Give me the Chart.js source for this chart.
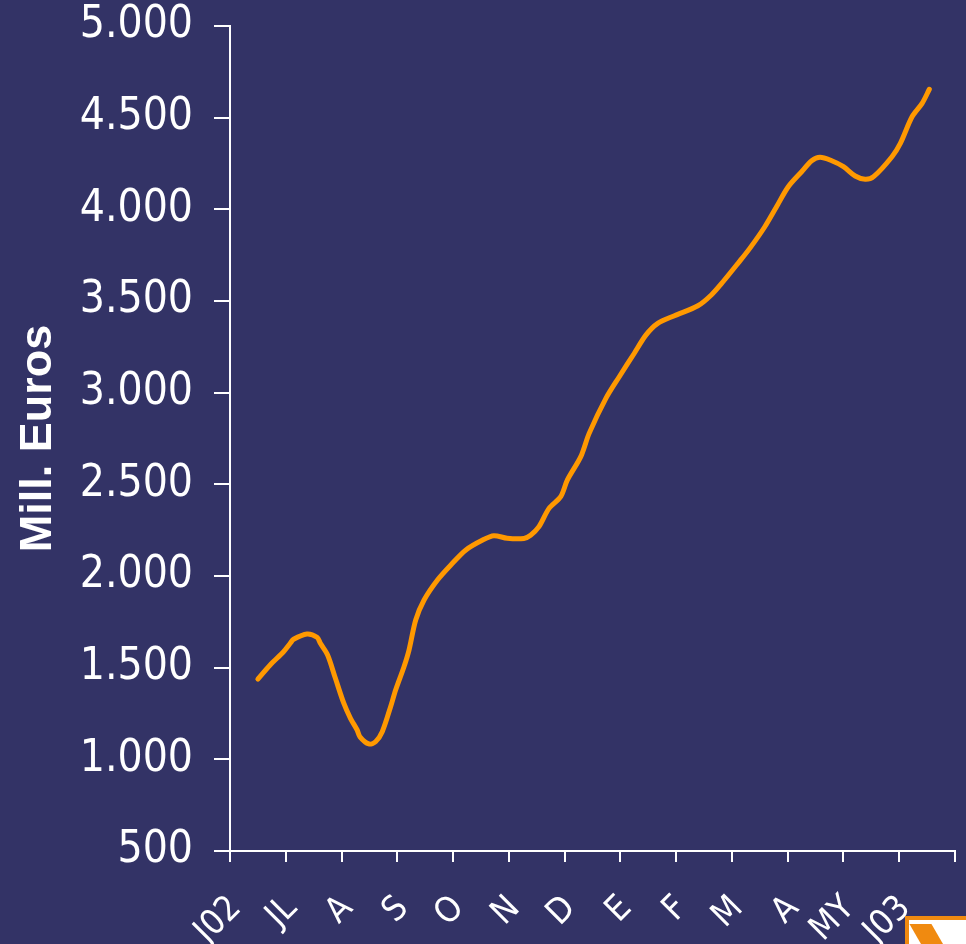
<!DOCTYPE html>
<html>
<head>
<meta charset="utf-8">
<script src="https://cdn.jsdelivr.net/npm/chart.js@4.4.1/dist/chart.umd.min.js"></script>
<style>
  html, body { margin: 0; padding: 0; background: #333366; overflow: hidden; }
  #wrap { position: relative; width: 966px; height: 944px; }
  canvas { display: block; }
  #logo { position: absolute; left: 905px; top: 916px; width: 70px; height: 40px;
          background: #ffffff; border: 4px solid #F08A10; box-sizing: border-box; overflow: hidden; }
  #logo div { position: absolute; left: 12px; top: 4px; width: 22px; height: 40px;
              background: #F08A10; transform: skewX(30deg); }
</style>
</head>
<body>
<div id="wrap">
  <canvas id="c" width="966" height="944"></canvas>
  <div id="logo"><div></div></div>
</div>
<script>
// Category labels (months, Jun 2002 – Jun 2003)
const monthLabels = ['J02', 'JL', 'A', 'S', 'O', 'N', 'D', 'E', 'F', 'M', 'A', 'MY', 'J03'];

// Series positions (fractional month index) and values in Mill. Euros
const seriesX = [0.00, 0.22, 0.46, 0.58, 0.64, 0.88, 1.06, 1.12, 1.25, 1.39, 1.54, 1.66, 1.78, 1.83,
  1.99, 2.11, 2.23, 2.38, 2.47, 2.62, 2.71, 2.83, 2.98, 3.22, 3.46, 3.73, 4.03, 4.23, 4.47, 4.77,
  4.89, 5.04, 5.22, 5.43, 5.55, 5.79, 5.94, 6.24, 6.48, 6.75, 6.96, 7.17, 7.47, 7.89, 8.13, 8.34,
  8.61, 8.82, 9.09, 9.30, 9.51, 9.75, 9.93, 10.08, 10.29, 10.50, 10.71, 10.89, 11.04, 11.37,
  11.52, 11.73, 11.91, 12.04];
const seriesValues = [1438, 1515, 1587, 1633, 1655, 1684, 1666, 1633, 1569, 1442, 1306, 1224, 1160, 1123,
  1084, 1096, 1151, 1287, 1378, 1505, 1596, 1760, 1869, 1978, 2060, 2142, 2196, 2220, 2206, 2205,
  2222, 2269, 2369, 2433, 2524, 2651, 2778, 2969, 3087, 3215, 3315, 3378, 3420, 3474, 3533, 3605,
  3706, 3787, 3905, 4014, 4123, 4205, 4265, 4284, 4265, 4233, 4182, 4164, 4178, 4287,
  4360, 4505, 4578, 4655];

// Value axis
const yMin = 500, yMax = 5000, yStep = 500;
const yTitle = 'Mill. Euros';

const points = seriesX.map((x, i) => ({ x: x, y: seriesValues[i] }));
const fmt = v => String(v).replace(/\B(?=(\d{3})+(?!\d))/g, '.');

new Chart(document.getElementById('c'), {
  type: 'line',
  data: {
    labels: monthLabels,
    datasets: [{
      data: points,
      xAxisID: 'xd',
      yAxisID: 'y',
      borderColor: '#FF9900',
      borderWidth: 5,
      borderCapStyle: 'round',
      borderJoinStyle: 'round',
      pointRadius: 0,
      tension: 0.3,
      fill: false
    }]
  },
  options: {
    responsive: false,
    maintainAspectRatio: false,
    animation: false,
    layout: { padding: { top: 0, right: 11, bottom: 0, left: 0 } },
    plugins: { legend: { display: false }, tooltip: { enabled: false } },
    scales: {
      x: {
        type: 'category',
        position: 'bottom',
        offset: true,
        grid: { offset: true, drawOnChartArea: false, drawTicks: true, tickLength: 11, color: '#ffffff', lineWidth: 2 },
        border: { display: true, color: '#ffffff', width: 2 },
        ticks: {
          color: '#ffffff', autoSkip: false, minRotation: 45, maxRotation: 45, padding: 26,
          labelOffset: -22,
          font: { family: '"DejaVu Sans Condensed", "DejaVu Sans", sans-serif', size: 35 }
        },
        afterFit: s => { s.height = 93; s.paddingLeft = 0; s.paddingRight = 0; }
      },
      xd: {
        type: 'linear', display: false, min: -0.5, max: 12.5
      },
      y: {
        type: 'linear',
        min: yMin, max: yMax,
        grid: { drawOnChartArea: false, drawTicks: true, tickLength: 16, color: '#ffffff', lineWidth: 2 },
        border: { display: true, color: '#ffffff', width: 2 },
        ticks: {
          stepSize: yStep, color: '#ffffff', padding: 21,
          font: { family: '"DejaVu Sans Condensed", "DejaVu Sans", sans-serif', size: 44 },
          callback: v => fmt(v)
        },
        title: {
          display: true, text: yTitle, color: '#ffffff',
          font: { family: '"Liberation Sans", Arial, sans-serif', size: 45, weight: 'bold' },
          padding: { top: 12, bottom: 0 }
        },
        afterFit: s => { s.width = 230; s.paddingTop = 26; s.paddingBottom = 0; }
      }
    }
  }
});
</script>
</body>
</html>
